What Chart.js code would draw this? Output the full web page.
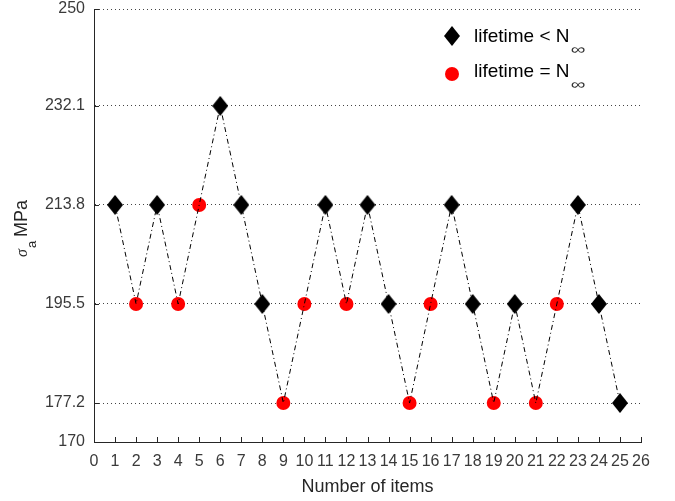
<!DOCTYPE html>
<html>
<head>
<meta charset="utf-8">
<script src="https://cdn.jsdelivr.net/npm/chart.js@4/dist/chart.umd.min.js"></script>
<style>
  html, body { margin: 0; padding: 0; background: #fff; }
  #wrap { width: 675px; height: 501px; position: relative; }
</style>
</head>
<body>
<div id="wrap"><canvas id="stairChart"></canvas></div>
<script>
// staircase test data
var items = [1,2,3,4,5,6,7,8,9,10,11,12,13,14,15,16,17,18,19,20,21,22,23,24,25];
var stress = [213.8,195.5,213.8,195.5,213.8,232.1,213.8,195.5,177.2,195.5,213.8,195.5,213.8,
              195.5,177.2,195.5,213.8,195.5,177.2,195.5,177.2,195.5,213.8,195.5,177.2];
// 1 = failed (lifetime < N inf), 0 = runout (lifetime = N inf)
var failed = [1,0,1,0,0,1,1,1,0,0,1,0,1,1,0,0,1,1,0,1,0,0,1,1,1];
var yTicks = [170, 177.2, 195.5, 213.8, 232.1, 250];
var legendLabels = ['lifetime < N', 'lifetime = N'];

var axisColor = '#262626';
var textColor = '#3a3a3a';
var sans = '"Liberation Sans", Arial, sans-serif';

var lineData = items.map(function(x, i) { return {x: x, y: stress[i]}; });
var failData = [], runoutData = [];
for (var i = 0; i < items.length; i++) {
  if (failed[i]) failData.push({x: items[i], y: stress[i]});
  else runoutData.push({x: items[i], y: stress[i]});
}

// diamond marker (a bit taller than wide, like matlab)
function makeDiamond(w, h) {
  var cv = document.createElement('canvas');
  cv.width = w; cv.height = h;
  var g = cv.getContext('2d');
  g.fillStyle = '#000';
  g.beginPath();
  g.moveTo(w / 2, 0); g.lineTo(w, h / 2); g.lineTo(w / 2, h); g.lineTo(0, h / 2);
  g.closePath(); g.fill();
  return cv;
}
var diamond = makeDiamond(16, 20);

// inward ticks, custom legend, y title with subscript
var extras = {
  id: 'extras',
  afterDraw: function(chart) {
    var c = chart.ctx;
    var xs = chart.scales.x, ys = chart.scales.y;
    var a = chart.chartArea;
    c.save();
    c.strokeStyle = axisColor;
    c.lineWidth = 1;
    c.beginPath();
    xs.ticks.forEach(function(t) {
      var px = Math.round(xs.getPixelForValue(t.value)) + 0.5;
      c.moveTo(px, a.bottom);
      c.lineTo(px, a.bottom - 5);
    });
    ys.ticks.forEach(function(t) {
      var py = Math.round(ys.getPixelForValue(t.value)) + 0.5;
      c.moveTo(a.left, py);
      c.lineTo(a.left + 5, py);
    });
    c.stroke();

    // legend
    var lx = 452, rows = [36, 74], base = [42, 77];
    c.drawImage(diamond, lx - 8, rows[0] - 10);
    c.fillStyle = '#ff0000';
    c.beginPath(); c.arc(lx, rows[1], 7, 0, Math.PI * 2); c.fill();

    c.fillStyle = '#000';
    c.textBaseline = 'alphabetic';
    c.textAlign = 'left';
    legendLabels.forEach(function(lbl, k) {
      c.font = '19px ' + sans;
      c.fillText(lbl, 474, base[k]);
      var w = c.measureText(lbl).width;
      // thin wide infinity subscript
      c.save();
      c.translate(474 + w + 1, base[k] + 12);
      c.scale(1.45, 1);
      c.font = '14px ' + sans;
      c.fillStyle = '#333';
      c.fillText('\u221E', 0, 0);
      c.restore();
    });

    // y axis title
    c.translate(27, 257);
    c.rotate(-Math.PI / 2);
    c.fillStyle = axisColor;
    c.font = 'italic 16px "Liberation Serif", serif';
    c.fillText('\u03C3', 0, 0);
    var sw = c.measureText('\u03C3').width;
    c.font = '13px ' + sans;
    c.fillText('a', sw + 1, 9);
    var aw = c.measureText('a').width;
    c.font = '18px ' + sans;
    c.fillText('MPa', sw + aw + 5, 0);
    c.restore();
  }
};

var ctx = document.getElementById('stairChart').getContext('2d');
var chart = new Chart(ctx, {
  type: 'scatter',
  data: {
    datasets: [
      {
        label: 'path',
        type: 'line',
        data: lineData,
        borderColor: '#000',
        borderWidth: 1,
        borderDash: [5, 3, 1, 3],
        pointRadius: 0,
        fill: false,
        tension: 0,
        order: 0
      },
      {
        label: legendLabels[0],
        data: failData,
        pointStyle: diamond,
        pointRadius: 8,
        backgroundColor: '#000',
        borderColor: '#000',
        borderWidth: 0,
        order: 1
      },
      {
        label: legendLabels[1],
        data: runoutData,
        pointStyle: 'circle',
        pointRadius: 7,
        backgroundColor: '#ff0000',
        borderColor: '#ff0000',
        borderWidth: 0,
        order: 1
      }
    ]
  },
  options: {
    responsive: true,
    maintainAspectRatio: false,
    animation: false,
    layout: { padding: { top: 9, right: 34, left: 0, bottom: 0 } },
    plugins: { legend: { display: false }, tooltip: { enabled: false } },
    scales: {
      x: {
        type: 'linear',
        min: 0, max: 26,
        afterFit: function(s) { s.height = 59; },
        ticks: {
          stepSize: 1,
          color: textColor,
          padding: 10,
          maxRotation: 0,
          autoSkip: false,
          font: { family: sans, size: 16 }
        },
        grid: { display: false, drawTicks: false },
        border: { display: true, color: axisColor, width: 1 },
        title: {
          display: true,
          text: 'Number of items',
          color: axisColor,
          padding: { top: 0, bottom: 3 },
          font: { family: sans, size: 18 }
        }
      },
      y: {
        type: 'linear',
        min: 170, max: 250,
        afterFit: function(s) { s.width = 94; s.paddingTop = 0; s.paddingBottom = 0; },
        afterBuildTicks: function(s) {
          s.ticks = yTicks.map(function(v) { return {value: v}; });
        },
        ticks: {
          color: textColor,
          padding: 9,
          font: { family: sans, size: 16 },
          callback: function(v) { return String(v); }
        },
        grid: {
          drawTicks: false,
          color: '#444',
          lineWidth: 1
        },
        border: { display: true, color: axisColor, width: 1, dash: [1, 3] }
      }
    }
  },
  plugins: [extras]
});
</script>
</body>
</html>
